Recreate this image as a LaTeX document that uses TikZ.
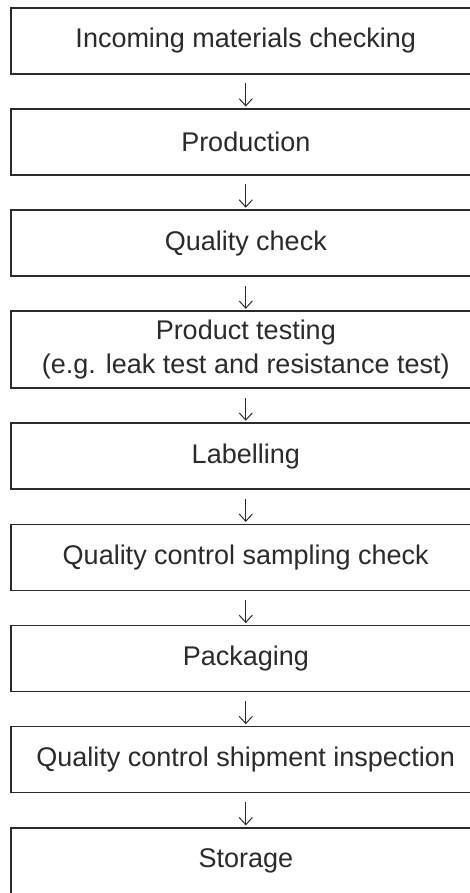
\documentclass[tikz,border=0pt]{standalone}
\usepackage{fontspec}
\setmainfont{Liberation Sans}
\usepackage{xcolor}
\usepackage{tikz}
\usetikzlibrary{arrows.meta,positioning}
\definecolor{ink}{HTML}{2B2B2B}
\tikzset{
  stage/.style={draw=ink,line width=1.1pt,align=center,text=ink,
    minimum width=117.5mm,minimum height=16.5mm,inner sep=0pt,
    font=\fontsize{19.2}{24.2}\selectfont},
  arr/.style={-{Straight Barb[length=1.8mm,width=3.3mm]},line width=0.7pt,draw=ink}
}

\begin{document}
\begin{tikzpicture}
\useasboundingbox (0,0) rectangle (117.25mm,-223.25mm);
\node[stage,anchor=north west] (incoming) at (2.5mm,-1.75mm) {Incoming materials checking};
\node[stage,below=8.4mm of incoming] (production) {Production};
\node[stage,below=8.4mm of production] (qcheck) {Quality check};
\node[stage,below=8.4mm of qcheck,minimum height=19.2mm] (testing) {Product testing\\(e.g. leak test and resistance test)};
\node[stage,below=8.4mm of testing] (labelling) {Labelling};
\node[stage,below=8.4mm of labelling] (sampling) {Quality control sampling check};
\node[stage,below=8.4mm of sampling] (packaging) {Packaging};
\node[stage,below=8.4mm of packaging] (shipment) {Quality control shipment inspection};
\node[stage,below=8.4mm of shipment] (storage) {Storage};
\foreach \a/\b in {incoming/production,production/qcheck,qcheck/testing,testing/labelling,
  labelling/sampling,sampling/packaging,packaging/shipment,shipment/storage}
  \draw[arr] ([yshift=-2.2mm]\a.south) -- ([yshift=0.4mm]\b.north);
\end{tikzpicture}
\end{document}
